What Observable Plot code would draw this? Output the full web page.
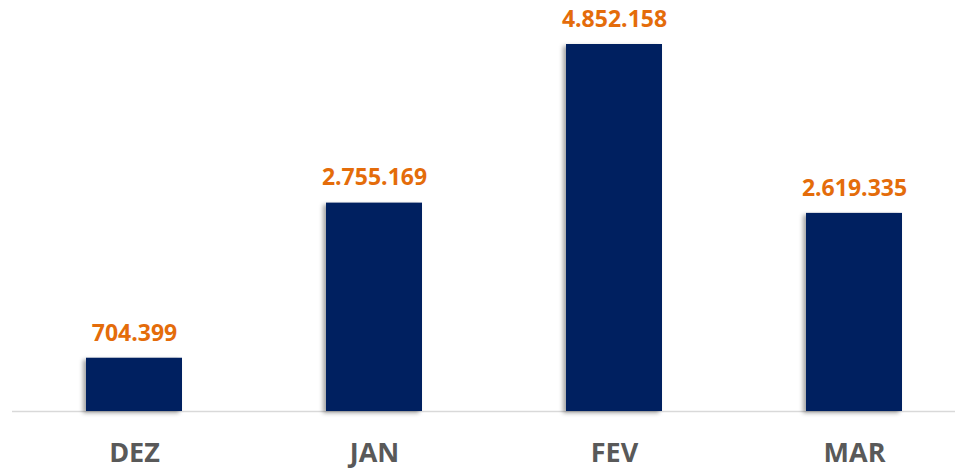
<!DOCTYPE html>
<html>
<head>
<meta charset="utf-8">
<script src="https://cdn.jsdelivr.net/npm/d3@7"></script>
<script src="https://cdn.jsdelivr.net/npm/@observablehq/plot@0.6"></script>
<style>
  html, body { margin: 0; padding: 0; background: #ffffff; }
  #chart svg { display: block; }
</style>
</head>
<body>
<div id="chart"></div>
<script>
const months = ["DEZ", "JAN", "FEV", "MAR"];
const values = [704399, 2755169, 4852158, 2619335];
const valueLabels = ["704.399", "2.755.169", "4.852.158", "2.619.335"];

const data = months.map((m, i) => ({month: m, value: values[i], label: valueLabels[i]}));

const chart = Plot.plot({
  width: 958,
  height: 469,
  marginLeft: 12,
  marginRight: 3,
  marginTop: 44,
  marginBottom: 58,
  style: {background: "#ffffff", fontFamily: "'Open Sans', sans-serif"},
  x: {domain: months, paddingInner: 0.6, paddingOuter: 0.2565, align: 0.5825, axis: null},
  y: {domain: [0, d3.max(values)], axis: null},
  marks: [
    Plot.ruleY([0], {stroke: "#D9D9D9", strokeWidth: 1.5}),
    Plot.barY(data, {x: "month", y: "value", fill: "#002060"}),
    Plot.text(data, {
      x: "month", y: "value", text: "label",
      dy: -25, lineAnchor: "middle",
      fill: "#E46C0A", fontSize: 23, fontWeight: "bold"
    }),
    Plot.text(data, {
      x: "month", y: () => 0, text: "month",
      dy: 42, lineAnchor: "middle",
      fill: "#595959", fontSize: 27, fontWeight: "bold"
    })
  ]
});

chart.querySelectorAll("rect").forEach(r => {
  if (r.getAttribute("fill") === "#002060" || r.parentNode.getAttribute("fill") === "#002060") {
    r.style.filter = "drop-shadow(-3px 2px 2px rgba(0,0,0,0.35))";
  }
});

document.getElementById("chart").appendChild(chart);
</script>
</body>
</html>
